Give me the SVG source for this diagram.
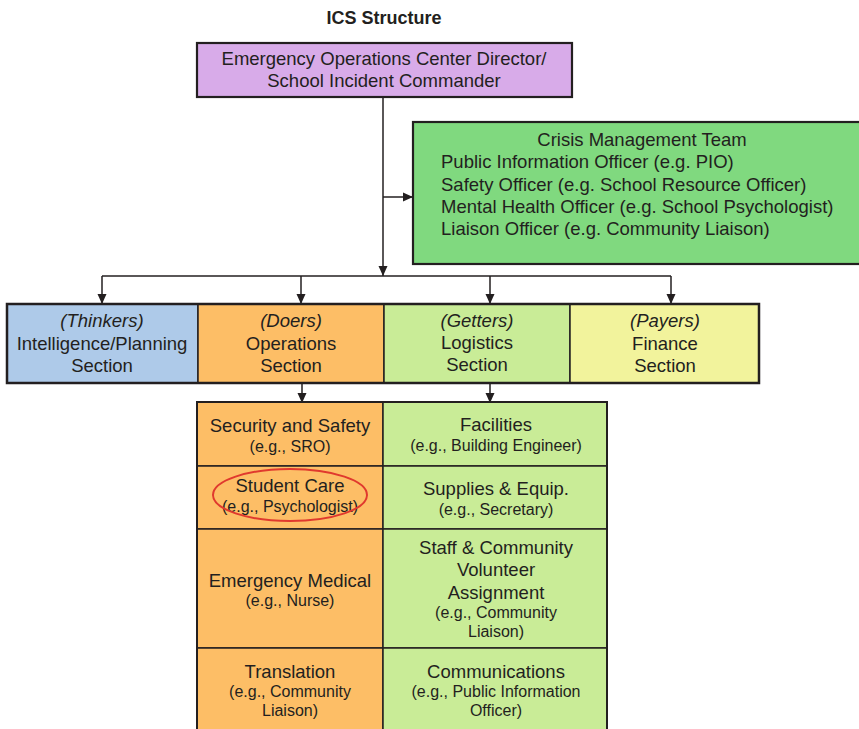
<svg xmlns="http://www.w3.org/2000/svg" width="859" height="729" viewBox="0 0 859 729">
<style>
text{font-family:"Liberation Sans",Arial,sans-serif;fill:#231f20;text-anchor:middle}
.m{font-size:18.5px}
.s{font-size:16px}
.i{font-style:italic}
.l{text-anchor:start}
.box{stroke:#231f20;stroke-width:2.2}
.cell{stroke:#231f20;stroke-width:1.5}
.conn{stroke:#231f20;stroke-width:1.5;fill:none;marker-end:url(#ah)}
.line{stroke:#231f20;stroke-width:1.5;fill:none}
</style>
<defs>
<marker id="ah" markerUnits="userSpaceOnUse" markerWidth="10" markerHeight="10" refX="10" refY="5" orient="auto">
<path d="M0,0.5 L10,5 L0,9.5 z" fill="#231f20"/>
</marker>
</defs>
<rect width="859" height="729" fill="#fff"/>
<text x="384" y="24" style="font-weight:bold;font-size:18px">ICS Structure</text>

<g id="connectors">
<path class="conn" d="M383,97 V276"/>
<path class="conn" d="M383,197 H413"/>
<path class="line" d="M102,276 H671"/>
<path class="conn" d="M102,276 V304"/>
<path class="conn" d="M301,276 V304"/>
<path class="conn" d="M490,276 V304"/>
<path class="conn" d="M671,276 V304"/>
<path class="conn" d="M302,383 V403"/>
<path class="conn" d="M490,383 V403"/>
</g>

<g id="director">
<rect class="box" x="197" y="43" width="375" height="54" fill="#d8abe9"/>
<text class="m" x="384" y="65">Emergency Operations Center Director/</text>
<text class="m" x="384" y="87">School Incident Commander</text>
</g>

<g id="crisis-team">
<rect class="box" x="413" y="122" width="460" height="142" fill="#80d97f"/>
<text class="m" x="642" y="146">Crisis Management Team</text>
<text class="m l" x="441" y="168">Public Information Officer (e.g. PIO)</text>
<text class="m l" x="441" y="191">Safety Officer (e.g. School Resource Officer)</text>
<text class="m l" x="441" y="213">Mental Health Officer (e.g. School Psychologist)</text>
<text class="m l" x="441" y="235">Liaison Officer (e.g. Community Liaison)</text>
</g>

<g id="planning">
<rect class="cell" x="7" y="304" width="191" height="79" fill="#aecae9"/>
<text class="m i" x="102" y="327">(Thinkers)</text>
<text class="m" x="102" y="350">Intelligence/Planning</text>
<text class="m" x="102" y="372">Section</text>
</g>
<g id="operations">
<rect class="cell" x="198" y="304" width="186" height="79" fill="#fdbe66"/>
<text class="m i" x="291" y="327">(Doers)</text>
<text class="m" x="291" y="350">Operations</text>
<text class="m" x="291" y="372">Section</text>
</g>
<g id="logistics">
<rect class="cell" x="384" y="304" width="186" height="79" fill="#c9ec97"/>
<text class="m i" x="477" y="327">(Getters)</text>
<text class="m" x="477" y="349">Logistics</text>
<text class="m" x="477" y="371">Section</text>
</g>
<g id="finance">
<rect class="cell" x="570" y="304" width="189" height="79" fill="#f2f39c"/>
<text class="m i" x="665" y="327">(Payers)</text>
<text class="m" x="665" y="350">Finance</text>
<text class="m" x="665" y="372">Section</text>
</g>
<rect x="7" y="304" width="752" height="79" fill="none" stroke="#231f20" stroke-width="2.5"/>

<g id="security">
<rect class="cell" x="197" y="402" width="186" height="64" fill="#fdbe66"/>
<text class="m" x="290" y="432">Security and Safety</text>
<text class="s" x="290" y="452">(e.g., SRO)</text>
</g>
<g id="student-care">
<rect class="cell" x="197" y="466" width="186" height="63" fill="#fdbe66"/>
<text class="m" x="290" y="492">Student Care</text>
<text class="s" x="290" y="512">(e.g., Psychologist)</text>
<ellipse cx="290" cy="495" rx="77" ry="26" fill="none" stroke="#e0392e" stroke-width="2"/>
</g>
<g id="medical">
<rect class="cell" x="197" y="529" width="186" height="119" fill="#fdbe66"/>
<text class="m" x="290" y="587">Emergency Medical</text>
<text class="s" x="290" y="606">(e.g., Nurse)</text>
</g>
<g id="translation">
<rect class="cell" x="197" y="648" width="186" height="90" fill="#fdbe66"/>
<text class="m" x="290" y="678">Translation</text>
<text class="s" x="290" y="697">(e.g., Community</text>
<text class="s" x="290" y="716">Liaison)</text>
</g>
<g id="facilities">
<rect class="cell" x="383" y="402" width="224" height="64" fill="#c9ec97"/>
<text class="m" x="496" y="431">Facilities</text>
<text class="s" x="496" y="451">(e.g., Building Engineer)</text>
</g>
<g id="supplies">
<rect class="cell" x="383" y="466" width="224" height="63" fill="#c9ec97"/>
<text class="m" x="496" y="495">Supplies &amp; Equip.</text>
<text class="s" x="496" y="515">(e.g., Secretary)</text>
</g>
<g id="volunteer">
<rect class="cell" x="383" y="529" width="224" height="119" fill="#c9ec97"/>
<text class="m" x="496" y="554">Staff &amp; Community</text>
<text class="m" x="496" y="576">Volunteer</text>
<text class="m" x="496" y="599">Assignment</text>
<text class="s" x="496" y="618">(e.g., Community</text>
<text class="s" x="496" y="637">Liaison)</text>
</g>
<g id="communications">
<rect class="cell" x="383" y="648" width="224" height="90" fill="#c9ec97"/>
<text class="m" x="496" y="678">Communications</text>
<text class="s" x="496" y="697">(e.g., Public Information</text>
<text class="s" x="496" y="716">Officer)</text>
</g>
<path d="M197,740 V402 H607 V740" fill="none" stroke="#231f20" stroke-width="2"/>
</svg>
